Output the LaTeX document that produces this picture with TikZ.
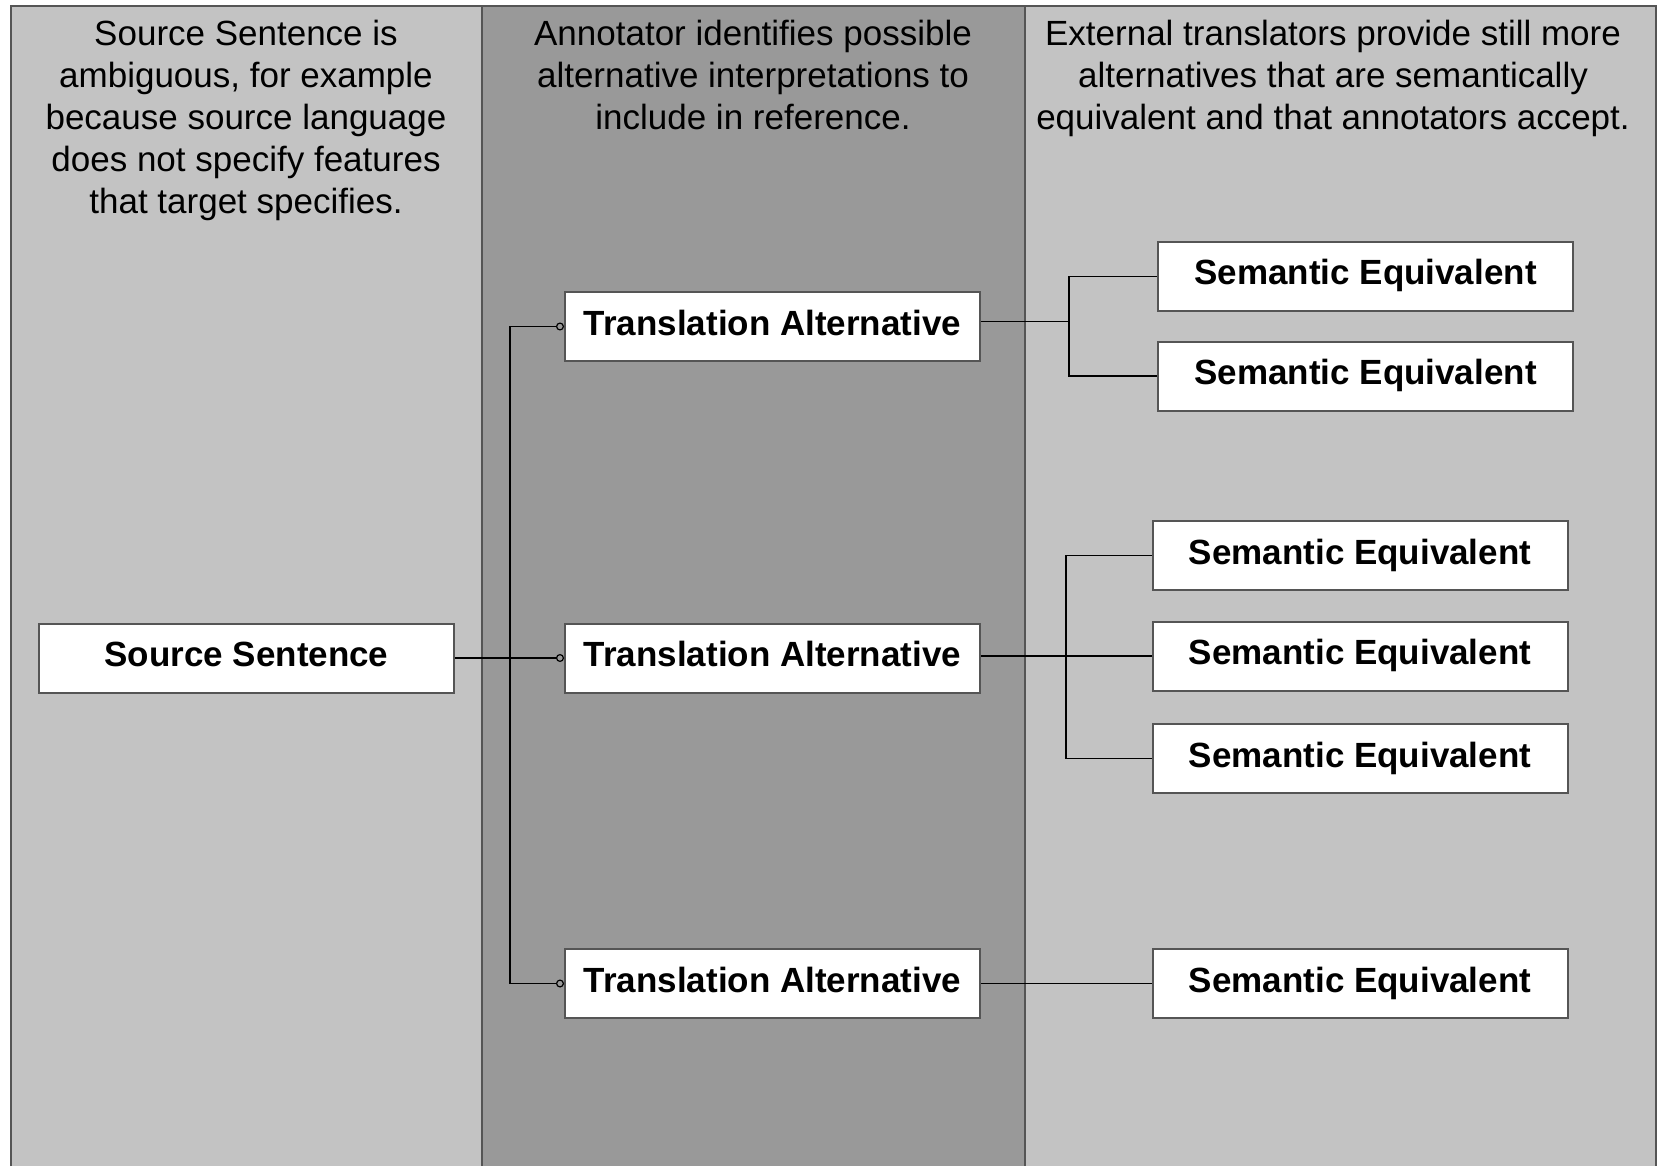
\documentclass[tikz,border=0pt]{standalone}
\usepackage{fontspec}
\setmainfont{Liberation Sans}
\usetikzlibrary{arrows.meta}

\definecolor{lanelight}{RGB}{195,195,195}
\definecolor{lanedark}{RGB}{153,153,153}
\definecolor{edgegray}{RGB}{85,85,85}

\begin{document}
\begin{tikzpicture}[x=0.5pt,y=-0.5pt,
    note/.style={anchor=north,inner sep=0pt,align=center,font=\fontsize{17.5}{21}\selectfont},
    box/.style={draw=edgegray,line width=1pt,fill=white,minimum width=207.5pt,
      minimum height=34.5pt,inner sep=0pt,text height=8.5pt,text depth=0pt,
      font=\fontsize{17.5}{21}\selectfont\bfseries},
    link/.style={draw=black,line width=0.6pt},
    tip/.style={link,-{Circle[open,length=4pt,width=4pt]}}]
    \useasboundingbox (0,0) rectangle (1658,1166);
    % lanes
    \fill[lanelight] (11,6) rectangle (482,1166);
    \fill[lanedark] (482,6) rectangle (1025,1166);
    \fill[lanelight] (1025,6) rectangle (1656,1166);
    \draw[edgegray,line width=1.2pt] (11,1166) -- (11,6) -- (1656,6) -- (1656,1166);
    \draw[edgegray,line width=1pt] (482,6) -- (482,1166) (1025,6) -- (1025,1166);
    % lane headers
    \node[note] (hsrc) at (246,20) {Source Sentence is\\ambiguous, for example\\because source language\\does not specify features\\that target specifies.};
    \node[note] (halt) at (753,20) {Annotator identifies possible\\alternative interpretations to\\include in reference.};
    \node[note] (hequ) at (1333,20) {External translators provide still more\\alternatives that are semantically\\equivalent and that annotators accept.};
    % boxes
    \node[box] (src) at (246.5,658) {Source Sentence};
    \node[box] (ta1) at (772.5,326.5) {Translation Alternative};
    \node[box] (ta2) at (772.5,658) {Translation Alternative};
    \node[box] (ta3) at (772.5,983.5) {Translation Alternative};
    \node[box] (se1) at (1365.5,276.5) {Semantic Equivalent};
    \node[box] (se2) at (1365.5,376) {Semantic Equivalent};
    \node[box] (se3) at (1360,555.5) {Semantic Equivalent};
    \node[box] (se4) at (1360,656) {Semantic Equivalent};
    \node[box] (se5) at (1360,758.5) {Semantic Equivalent};
    \node[box] (se6) at (1360,983.5) {Semantic Equivalent};
    % branch points
    \coordinate (bsrc) at (510,658);
    \coordinate (b1) at (1069,321.5);
    \coordinate (b2) at (1066,656);
    % connectors
    \draw[link] (src.east) -- (bsrc);
    \draw[tip] (bsrc) |- (ta1.west);
    \draw[tip] (bsrc) -- (ta2.west);
    \draw[tip] (bsrc) |- (ta3.west);
    \draw[link] (ta1.east |- b1) -- (b1) |- (se1.west);
    \draw[link] (b1) |- (se2.west);
    \draw[link] (ta2.east |- b2) -- (se4.west);
    \draw[link] (b2) |- (se3.west);
    \draw[link] (b2) |- (se5.west);
    \draw[link] (ta3.east) -- (se6.west);
\end{tikzpicture}
\end{document}
